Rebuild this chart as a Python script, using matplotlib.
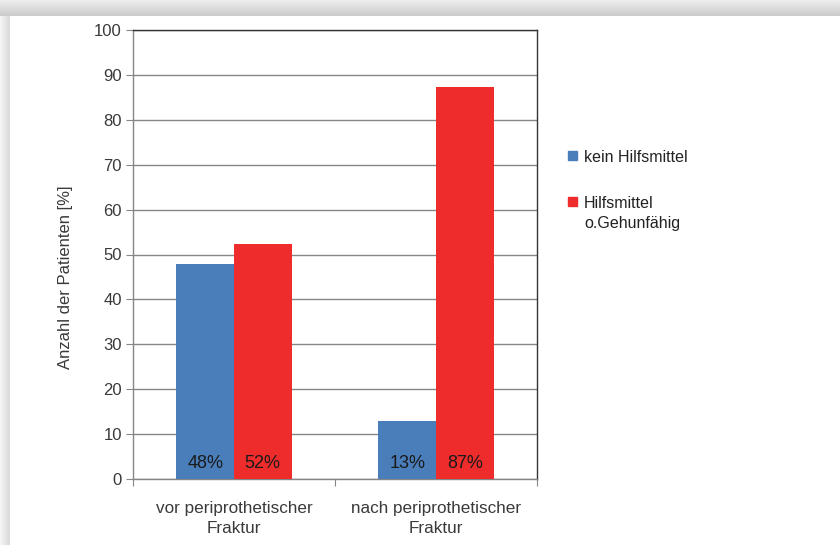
import numpy as np
import matplotlib.pyplot as plt
from matplotlib.patches import Rectangle

plt.rcParams['font.family'] = ['Liberation Sans', 'DejaVu Sans']

# data
categories = ["vor periprothetischer\nFraktur", "nach periprothetischer\nFraktur"]
series_names = ["kein Hilfsmittel", "Hilfsmittel\no.Gehunfähig"]
kein_hilfsmittel = [47.9, 13.0]
hilfsmittel = [52.3, 87.2]
bar_labels = [["48%", "13%"], ["52%", "87%"]]
colors = ["#4A7EBB", "#EE2C2C"]

W, H = 840, 545
fig = plt.figure(figsize=(W / 100, H / 100), dpi=100)

# soft shadow frame like the exported office chart
bg = np.ones((H, W))
top = np.linspace(0.93, 0.80, 16)
bg[:16, :] = top[:, None]
left = np.linspace(0.96, 0.86, 10)
bg[16:, :10] = np.minimum(bg[16:, :10], left[None, :])
bgax = fig.add_axes([0, 0, 1, 1], zorder=-5)
bgax.imshow(np.dstack([bg, bg, bg]), aspect='auto', extent=[0, W, H, 0])
bgax.axis('off')

ax = fig.add_axes([133 / W, 1 - 479 / H, 404 / W, 449 / H])
ax.set_facecolor('none')

x = np.arange(len(categories))
w = 0.285
ax.bar(x - w / 2, kein_hilfsmittel, w, color=colors[0], zorder=3)
ax.bar(x + w / 2, hilfsmittel, w, color=colors[1], zorder=3)

for i in range(len(categories)):
    ax.text(x[i] - w / 2, 3.5, bar_labels[0][i], ha='center', va='center',
            fontsize=13, color='#1a1a1a', zorder=4)
    ax.text(x[i] + w / 2, 3.5, bar_labels[1][i], ha='center', va='center',
            fontsize=13, color='#1a1a1a', zorder=4)

ax.set_xlim(-0.5, 1.5)
ax.set_ylim(0, 100)
ax.set_yticks(np.arange(0, 101, 10))
ax.yaxis.grid(True, color='#868686', linewidth=1.0, zorder=0)
ax.set_axisbelow(True)

# category labels centered, boundary ticks on the x axis
ax.set_xticks([-0.5, 0.5, 1.5])
ax.set_xticklabels([])
ax.set_xticks(x, minor=True)
ax.set_xticklabels(categories, minor=True, fontsize=12.3, color='#3a3a3a',
                   linespacing=1.4)
ax.tick_params(axis='x', which='minor', length=0, pad=16)
ax.tick_params(axis='x', which='major', length=5, color='#868686')
ax.tick_params(axis='y', length=5, color='#868686', labelsize=12,
               labelcolor='#3a3a3a', pad=3)

ax.spines['left'].set_color('#868686')
ax.spines['bottom'].set_color('#868686')
ax.spines['top'].set_color('#333333')
ax.spines['right'].set_color('#333333')
for s in ax.spines.values():
    s.set_linewidth(1.0)

ax.set_ylabel("Anzahl der Patienten [%]", fontsize=12, color='#3a3a3a')
ax.yaxis.set_label_coords((73 - 133) / 404, (479 - 277) / 449)

# legend drawn by hand so the square sits on the first text line
leg_y = [155, 201]
for c, name, yy in zip(colors, series_names, leg_y):
    fig.add_artist(Rectangle((568 / W, 1 - (yy + 5) / H), 9 / W, 9 / H,
                             transform=fig.transFigure, color=c))
    fig.text(584 / W, 1 - (yy - 5) / H, name, ha='left', va='top',
             fontsize=11.5, color='#222222', linespacing=1.45)

fig.savefig("out.png", dpi=100)
